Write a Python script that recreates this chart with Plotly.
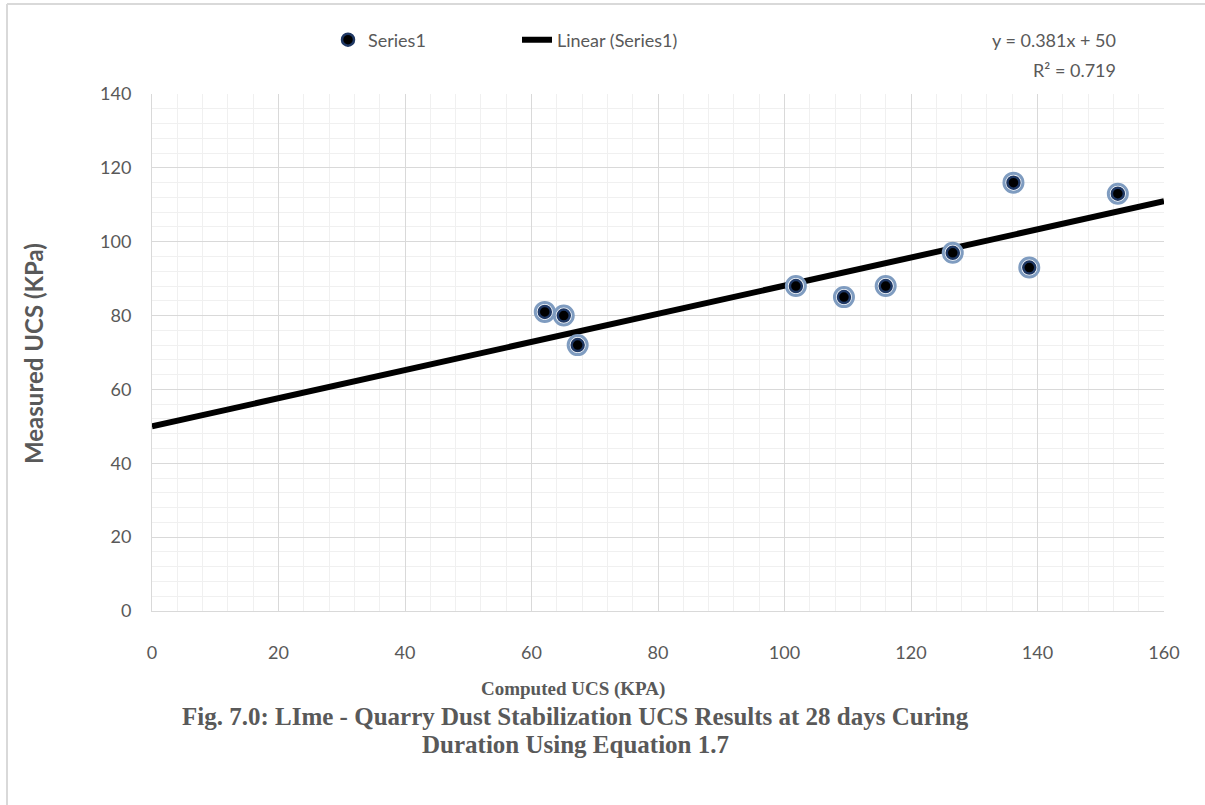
import plotly.graph_objects as go

# ---- data ----
computed_ucs = [62.1, 65.1, 67.3, 101.8, 109.4, 116.0, 126.6, 136.2, 138.7, 152.7]
measured_ucs = [81, 80, 72, 88, 85, 88, 97, 116, 93, 113]
trend_slope = 0.381
trend_intercept = 50
r_squared = 0.719
trend_x = [0, 160]
x_ticks = [0, 20, 40, 60, 80, 100, 120, 140, 160]
y_ticks = [0, 20, 40, 60, 80, 100, 120, 140]
caption_lines = [
    "Fig. 7.0: LIme - Quarry Dust Stabilization UCS Results at 28 days Curing",
    "Duration Using Equation 1.7",
]

trend_y = [trend_slope * v + trend_intercept for v in trend_x]

GREY = "#595959"
W, H = 1205, 805
L, R, T, B = 152, 1164, 94, 611


def px(xp):
    return (xp - L) / (R - L)


def py(yp):
    return (B - yp) / (B - T)


fig = go.Figure()

# trendline
fig.add_trace(go.Scatter(
    x=trend_x, y=trend_y, mode="lines", name="Linear (Series1)",
    line=dict(color="black", width=6), legendrank=2,
))

# markers: layered rings
fig.add_trace(go.Scatter(
    x=computed_ucs, y=measured_ucs, mode="markers", showlegend=False,
    marker=dict(size=19, color="white", line=dict(color="#7F9CC0", width=3)),
    hoverinfo="skip",
))
fig.add_trace(go.Scatter(
    x=computed_ucs, y=measured_ucs, mode="markers", name="Series1", legendrank=1,
    marker=dict(size=12, color="black", line=dict(color="#1F3864", width=2.5)),
))

fig.update_layout(
    width=W, height=H,
    paper_bgcolor="white", plot_bgcolor="white",
    margin=dict(l=L, r=W - R, t=T, b=H - B),
    font=dict(family="Lato, Open Sans, sans-serif", size=18, color=GREY),
    showlegend=True,
    legend=dict(
        orientation="h", x=px(328), xanchor="left", y=py(40), yanchor="middle",
        font=dict(size=18, color=GREY), bgcolor="rgba(0,0,0,0)",
        traceorder="normal", entrywidth=144, entrywidthmode="pixels",
    ),
    xaxis=dict(
        range=[0, 160], tickvals=x_ticks, showgrid=True, gridcolor="#D9D9D9", gridwidth=1,
        minor=dict(dtick=4, showgrid=True, gridcolor="#F0F0F0", gridwidth=1),
        showline=True, linecolor="#D9D9D9", linewidth=1, zeroline=False,
        ticks="outside", ticklen=25, tickcolor="rgba(0,0,0,0)",
        tickfont=dict(size=18, color=GREY),
    ),
    yaxis=dict(
        range=[0, 140], tickvals=y_ticks, showgrid=True, gridcolor="#D9D9D9", gridwidth=1,
        minor=dict(dtick=4, showgrid=True, gridcolor="#F0F0F0", gridwidth=1),
        showline=True, linecolor="#D9D9D9", linewidth=1, zeroline=False,
        ticks="outside", ticklen=16, tickcolor="rgba(0,0,0,0)",
        tickfont=dict(size=18, color=GREY),
    ),
)

# equation annotation (two lines)
fig.add_annotation(
    xref="paper", yref="paper", x=px(1118), y=py(40), xanchor="right", yanchor="middle",
    text=f"y = {trend_slope}x + {trend_intercept}",
    showarrow=False, font=dict(size=18, color=GREY),
)
fig.add_annotation(
    xref="paper", yref="paper", x=px(1118), y=py(70), xanchor="right", yanchor="middle",
    text=f"R² = {r_squared}",
    showarrow=False, font=dict(size=18, color=GREY),
)

# y axis title
fig.add_annotation(
    xref="paper", yref="paper", x=px(33), y=py(354), xanchor="center", yanchor="middle",
    text="<b>Measured UCS (KPa)</b>", textangle=-90, showarrow=False,
    font=dict(size=24, color=GREY, family="Lato, Open Sans, sans-serif"),
)

# x axis title + caption (serif)
SERIF = "Liberation Serif, Times New Roman, serif"
fig.add_annotation(
    xref="paper", yref="paper", x=px(573), y=py(689), xanchor="center", yanchor="middle",
    text="<b>Computed UCS (KPA)</b>", showarrow=False,
    font=dict(size=19, color=GREY, family=SERIF),
)
for i, line in enumerate(caption_lines):
    fig.add_annotation(
        xref="paper", yref="paper", x=px(575), y=py(716 + 28 * i),
        xanchor="center", yanchor="middle",
        text=f"<b>{line}</b>", showarrow=False,
        font=dict(size=25, color=GREY, family=SERIF),
    )

# chart border (left and top)
fig.add_shape(type="line", xref="paper", yref="paper",
              x0=px(7), x1=px(7), y0=py(4), y1=py(H + 5),
              line=dict(color="#D9D9D9", width=2))
fig.add_shape(type="line", xref="paper", yref="paper",
              x0=px(7), x1=px(W + 5), y0=py(4), y1=py(4),
              line=dict(color="#D9D9D9", width=2))

fig.write_html("out.html", config={"displayModeBar": False},
               post_script="document.body.style.margin='0';")
